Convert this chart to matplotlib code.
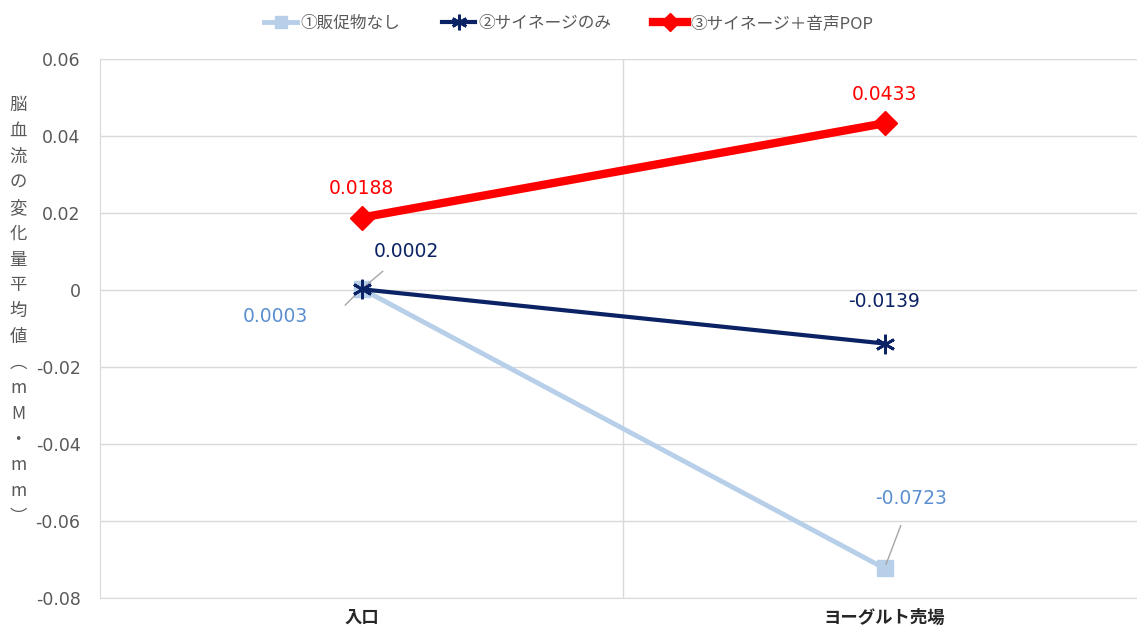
import matplotlib.pyplot as plt

plt.rcParams['font.family'] = ['DejaVu Sans', 'Noto Sans CJK JP']

categories = ["入口", "ヨーグルト売場"]
series_names = ["①販促物なし", "②サイネージのみ", "③サイネージ＋音声POP"]
no_promo = [0.0003, -0.0723]
signage = [0.0002, -0.0139]
signage_pop = [0.0188, 0.0433]
y_ticks = [0.06, 0.04, 0.02, 0, -0.02, -0.04, -0.06, -0.08]
y_label = "脳血流の変化量平均値︵mM・mm︶"

fig = plt.figure(figsize=(11.37, 6.37), dpi=100)
ax = fig.add_axes([100 / 1137, 39 / 637, 1046 / 1137, 539 / 637])
x = range(len(categories))

ax.plot(x, no_promo, color="#B7CFE9", lw=3.5, marker="s", ms=11, label=series_names[0], zorder=3)
ax.plot(x, signage, color="#0B2265", lw=3, marker=(6, 2, 0), ms=14, mew=2, label=series_names[1], zorder=4)
ax.plot(x, signage_pop, color="#FF0000", lw=6, marker="D", ms=12, label=series_names[2], zorder=5)

ax.set_xlim(-0.5, 1.5)
ax.set_ylim(-0.08, 0.06)
ax.set_yticks(y_ticks)
ax.set_yticklabels(["0.06", "0.04", "0.02", "0", "-0.02", "-0.04", "-0.06", "-0.08"])
ax.set_xticks(list(x))
ax.set_xticklabels(categories, fontweight="bold", family=["Noto Sans CJK JP"])
ax.tick_params(axis="y", length=0, labelsize=12.5, colors="#595959", pad=14)
ax.tick_params(axis="x", length=0, colors="#262626", labelsize=12.5, pad=8)
ax.grid(axis="y", color="#D9D9D9", lw=1)
ax.axvline(0.5, color="#D9D9D9", lw=1)
for s in ["top", "right"]:
    ax.spines[s].set_visible(False)
ax.spines["left"].set_color("#D9D9D9")
ax.spines["bottom"].set_color("#D9D9D9")

# data labels
lab_kw = dict(fontsize=13.5, ha="center", va="center")
ax.annotate(f"{signage_pop[0]:.4f}", (0, signage_pop[0]), xytext=(0, 21), textcoords="offset points", color="#FF0000", **lab_kw)
ax.annotate(f"{signage_pop[1]:.4f}", (1, signage_pop[1]), xytext=(0, 21), textcoords="offset points", color="#FF0000", **lab_kw)
ax.annotate(f"{signage[0]:.4f}", (0, signage[0]), xytext=(32, 27), textcoords="offset points", color="#0B2265",
            arrowprops=dict(arrowstyle="-", color="#A6A6A6", lw=1, shrinkA=8, shrinkB=3), **lab_kw)
ax.annotate(f"{signage[1]:.4f}", (1, signage[1]), xytext=(0, 30), textcoords="offset points", color="#0B2265", **lab_kw)
ax.annotate(f"{no_promo[0]:.4f}", (0, no_promo[0]), xytext=(-62, -20), textcoords="offset points", color="#5B8FD0",
            arrowprops=dict(arrowstyle="-", color="#A6A6A6", lw=1, shrinkA=26, shrinkB=2,
                            connectionstyle="angle,angleA=0,angleB=45,rad=0"), **lab_kw)
ax.annotate(f"{no_promo[1]:.4f}", (1, no_promo[1]), xytext=(19, 50), textcoords="offset points", color="#5B8FD0",
            arrowprops=dict(arrowstyle="-", color="#A6A6A6", lw=1, shrinkA=11, shrinkB=3), **lab_kw)

fig.text(18 / 1137, 1 - 311 / 637, "\n".join(y_label), ha="center", va="center", fontsize=12.5, color="#595959",
         family=["Noto Sans CJK JP"], linespacing=1.55)

leg = fig.legend(loc="upper center", bbox_to_anchor=(0.5, 1.0), ncol=3, frameon=False,
                 prop={"family": ["Noto Sans CJK JP"], "size": 12}, handlelength=2.0,
                 columnspacing=2.5, handletextpad=0.2, markerscale=0.8)
for t in leg.get_texts():
    t.set_color("#595959")

fig.savefig("out.png", dpi=100)
